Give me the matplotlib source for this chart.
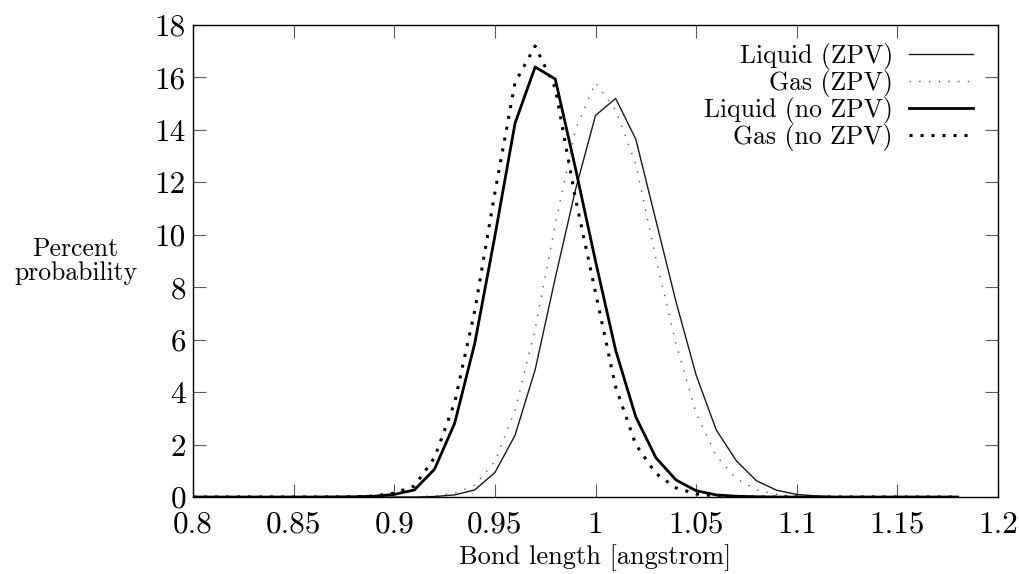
import matplotlib
matplotlib.use("Agg")
import matplotlib.pyplot as plt
from matplotlib.ticker import FuncFormatter

plt.rcParams['font.family'] = 'cmr10'
plt.rcParams['mathtext.fontset'] = 'cm'
plt.rcParams['axes.formatter.use_mathtext'] = True

# bond length grid [angstrom]
bond = [0.80, 0.81, 0.82, 0.83, 0.84, 0.85, 0.86, 0.87, 0.88, 0.89,
        0.90, 0.91, 0.92, 0.93, 0.94, 0.95, 0.96, 0.97, 0.98, 0.99,
        1.00, 1.01, 1.02, 1.03, 1.04, 1.05, 1.06, 1.07, 1.08, 1.09,
        1.10, 1.11, 1.12, 1.13, 1.14, 1.15, 1.16, 1.17, 1.18]

# percent probability, one list per run
liquid_zpv = [0, 0, 0, 0, 0, 0, 0, 0, 0, 0,
              0, 0, 0.02, 0.08, 0.27, 0.93, 2.35, 4.85, 8.35, 11.7,
              14.55, 15.2, 13.65, 10.55, 7.45, 4.65, 2.56, 1.38, 0.62, 0.26,
              0.10, 0.04, 0.01, 0, 0, 0, 0, 0, 0]
gas_zpv = [0, 0, 0, 0, 0, 0, 0, 0, 0, 0,
           0, 0.01, 0.04, 0.14, 0.45, 1.35, 3.3, 6.4, 10.4, 14.0,
           15.8, 14.75, 12.7, 9.1, 5.85, 3.2, 1.57, 0.7, 0.28, 0.10,
           0.035, 0.01, 0, 0, 0, 0, 0, 0, 0]
liquid_nozpv = [0, 0, 0, 0, 0, 0, 0, 0.005, 0.01, 0.03,
                0.10, 0.27, 1.06, 2.81, 5.86, 9.95, 14.25, 16.4, 15.94, 12.55,
                9.0, 5.6, 3.06, 1.5, 0.65, 0.24, 0.08, 0.03, 0.01, 0,
                0, 0, 0, 0, 0, 0, 0, 0, 0]
gas_nozpv = [0, 0, 0, 0, 0, 0, 0, 0, 0.01, 0.04,
             0.15, 0.42, 1.5, 3.6, 7.1, 11.6, 15.8, 17.2, 15.6, 11.4,
             7.8, 4.2, 2.0, 0.9, 0.35, 0.12, 0.04, 0.01, 0, 0,
             0, 0, 0, 0, 0, 0, 0, 0, 0]

xticks = [0.8, 0.85, 0.9, 0.95, 1.0, 1.05, 1.1, 1.15, 1.2]
yticks = [0, 2, 4, 6, 8, 10, 12, 14, 16, 18]

fig = plt.figure(figsize=(10.19, 5.74), dpi=100)
ax = fig.add_axes([0.1894, 0.1341, 0.79, 0.8223])

ax.plot(bond, liquid_zpv, color='0.1', lw=1.0, label='Liquid (ZPV)')
ax.plot(bond, gas_zpv, color='0.35', lw=1.0, dashes=(1, 6), label='Gas (ZPV)')
ax.plot(bond, liquid_nozpv, color='black', lw=2.0, label='Liquid (no ZPV)')
ax.plot(bond, gas_nozpv, color='black', lw=2.2, dashes=(1, 2.6), label='Gas (no ZPV)')

ax.set_xlim(0.8, 1.2)
ax.set_ylim(0, 18)
ax.set_xticks(xticks)
ax.set_yticks(yticks)
fmt = FuncFormatter(lambda v, p: '%g' % v)
ax.xaxis.set_major_formatter(fmt)
ax.yaxis.set_major_formatter(fmt)
ax.tick_params(direction='in', length=9.5, width=0.8, color='0.35',
               top=True, right=True, labelsize=22.5)
ax.tick_params(axis='x', pad=10)
ax.tick_params(axis='y', pad=5)
for s in ax.spines.values():
    s.set_linewidth(1.0)

ax.set_xlabel('Bond length [angstrom]', fontsize=19, labelpad=4)
ax.set_ylabel('Percent\nprobability', fontsize=18.5, rotation=0,
              ha='center', va='center', linespacing=1.0)
ax.yaxis.set_label_coords(-0.146, 0.5)

ax.legend(loc='upper right', bbox_to_anchor=(0.969, 0.962), frameon=False,
          markerfirst=False, fontsize=18.5, handlelength=2.5,
          handletextpad=0.62, labelspacing=0.0, borderpad=0,
          borderaxespad=0)

fig.savefig('out.png', dpi=100)
